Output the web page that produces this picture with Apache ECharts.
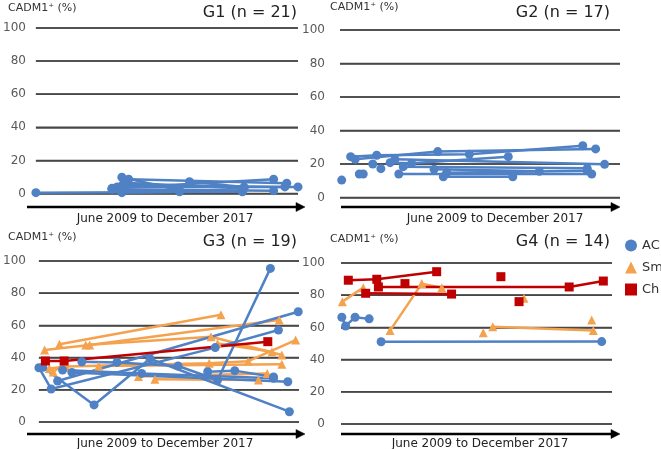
<!DOCTYPE html>
<html><head><meta charset="utf-8">
<script src="https://cdn.jsdelivr.net/npm/echarts@6/dist/echarts.min.js"></script>
<style>html,body{margin:0;padding:0;background:#fff}#c{width:661px;height:449px}</style>
</head><body><div id="c"></div>
<script>
// x = position along time axis, % of the period June 2009 – December 2017
const xRange = [0, 100];
const yTicks = [0, 20, 40, 60, 80, 100];
const panelTitles = ['G1 (n = 21)', 'G2 (n = 17)', 'G3 (n = 19)', 'G4 (n = 14)'];
const yAxisTitle = 'CADM1\u207A (%)';
const xAxisTitle = 'June 2009 to December 2017';
const legendNames = ['AC', 'Sm', 'Ch'];

const g1AC = [
  [[0, 0.5], [78.8, 1]],
  [[29, 3.1], [90.7, 8.6]],
  [[35.4, 8.6], [95.7, 6.2]],
  [[33, 5.1], [95, 4]],
  [[31, 4], [100, 4]],
  [[29, 2.5], [90.7, 1.7]],
  [[32.8, 0.5], [54.8, 1]],
  [[58.6, 7.1], [79.4, 4]],
  [[32.8, 9.8], [54.8, 2]],
  [[32.8, 1.5], [78.8, 1.5]],
  [[34, 6.5], [79.4, 3]]
];
const g1Sm = [];
const g1Ch = [];

const g2AC = [
  [[0.6, 10.4]],
  [[6.9, 14]],
  [[8.3, 14]],
  [[11.7, 20]],
  [[14.6, 17.2]],
  [[3.8, 24.4], [13.1, 25.2], [46.2, 25.8], [86.7, 30.9]],
  [[5.4, 22.8], [34.9, 27.4], [91.3, 29]],
  [[17.9, 20.8], [25.6, 20.4], [60.1, 24.4]],
  [[19.6, 22.8], [94.5, 19.8]],
  [[22.6, 18.4], [88.3, 17.4]],
  [[21, 14], [89.9, 14]],
  [[33.6, 16.8], [71.2, 15.6]],
  [[36.9, 12.4], [61.7, 12.4]],
  [[38.1, 14.8], [88.3, 16]]
];
const g2Sm = [];
const g2Ch = [];

const g3AC = [
  [[0, 33.7], [4.7, 20.5], [67.8, 46.2], [92.1, 57.1]],
  [[1.5, 34], [21.2, 10.6], [42.7, 39.3], [96.3, 6.4]],
  [[7.2, 25.5], [99.7, 68.5]],
  [[9.1, 32.3], [39.5, 30.2], [90.2, 27.1]],
  [[12.7, 30.8], [95.7, 25]],
  [[16.5, 37.4], [30, 37], [53.5, 34.8], [68.7, 26.1], [89, 95.4]],
  [[64.9, 31.2], [75.3, 31.9], [90.2, 28]]
];
const g3Sm = [
  [[7.9, 48.3], [70, 66.6]],
  [[2.2, 44.7], [19.5, 47.8], [92.4, 63.4]],
  [[18, 47.8], [66.2, 52.9], [93.4, 41.6]],
  [[4, 33.3], [10.4, 34.4], [65.5, 36.5], [80.5, 37.8], [98.7, 50.9]],
  [[23, 34.8], [93.4, 35.8]],
  [[38.3, 28.2], [87.8, 30.2]],
  [[44.6, 26.6], [84.4, 26.1]],
  [[68.7, 48.8], [89.6, 43.7]],
  [[5.5, 31], [9.5, 36]]
];
const g3Ch = [
  [[2.5, 37.9], [9.7, 37.9], [88, 49.9]]
];

const g4AC = [
  [[0.3, 66.3], [1.7, 60.9], [5.2, 66.3], [10.4, 65.3]],
  [[14.8, 51.1], [96.2, 51.2]]
];
const g4Sm = [
  [[0.5, 76], [8.2, 84.7]],
  [[18.1, 58], [29.8, 87.2], [37.2, 84.7]],
  [[56, 60.4], [93.1, 58]],
  [[52.5, 56.7]],
  [[67.5, 78.1]],
  [[92.5, 64.6]]
];
const g4Ch = [
  [[2.7, 89.3], [13.2, 89.9], [35.3, 94.6]],
  [[13.8, 85.1], [84.2, 85.1], [96.8, 88.8]],
  [[9.1, 81.2], [40.8, 80.7]],
  [[23.6, 87.2]],
  [[59, 91.5]],
  [[65.7, 76]]
];

const panels = [
  {AC: g1AC, Sm: g1Sm, Ch: g1Ch},
  {AC: g2AC, Sm: g2Sm, Ch: g2Ch},
  {AC: g3AC, Sm: g3Sm, Ch: g3Ch},
  {AC: g4AC, Sm: g4Sm, Ch: g4Ch}
];

const FONT = 'DejaVu Sans';
const GRIDCOLOR = '#474747';
const COLORS = {AC: '#4f81c4', Sm: '#f5a24f', Ch: '#c00000'};
const SYMBOLS = {AC: 'circle', Sm: 'triangle', Ch: 'rect'};
const SIZES = {AC: 9, Sm: 9, Ch: 9};

const grids = [
  {left: 33, top: 28, width: 265, height: 165.5},
  {left: 340, top: 30, width: 280, height: 167.5},
  {left: 36, top: 261, width: 263, height: 161},
  {left: 341, top: 263, width: 271, height: 161}
];
const labelMargin = [10, 15, 13, 16];

const series = [];
// grid lines first (same layer as the data, so data is drawn on top)
panels.forEach((p, gi) => {
  yTicks.forEach(v => {
    series.push({
      type: 'line', name: 'Grid', xAxisIndex: gi, yAxisIndex: gi,
      data: [[xRange[0], v], [xRange[1], v]], symbol: 'circle', symbolSize: 0, showSymbol: false,
      lineStyle: {color: GRIDCOLOR, width: 1.5, opacity: 1}, itemStyle: {color: GRIDCOLOR},
      silent: true, clip: false, z: 6, animation: false
    });
  });
});
panels.forEach((p, gi) => {
  ['Sm', 'AC', 'Ch'].forEach(k => {
    p[k].forEach(traj => {
      series.push({
        type: 'line', name: k, xAxisIndex: gi, yAxisIndex: gi,
        data: traj, symbol: SYMBOLS[k], symbolSize: SIZES[k], showSymbol: true,
        lineStyle: {color: COLORS[k], width: 2.5},
        itemStyle: {color: COLORS[k]},
        clip: false, animation: false, silent: true, z: 6
      });
    });
  });
});

const graphic = [];
const arrows = [[27, 305, 207], [341, 620, 207], [27, 305, 434], [341, 620, 434]];
arrows.forEach(a => {
  graphic.push({type: 'polyline', z: 50, shape: {points: [[a[0], a[2]], [a[1] - 7, a[2]]]}, style: {stroke: '#000', fill: null, lineWidth: 2.5}});
  graphic.push({type: 'polygon', z: 50, shape: {points: [[a[1], a[2]], [a[1] - 9, a[2] - 4.5], [a[1] - 9, a[2] + 4.5]]}, style: {fill: '#000', stroke: '#000', lineWidth: 0.5}});
});
const xNamePos = [[165, 219], [495, 219], [165, 444], [480, 444]];
xNamePos.forEach(p => graphic.push({type: 'text', z: 50, x: p[0], y: p[1], style: {text: xAxisTitle, font: '12px "DejaVu Sans"', fill: '#222', align: 'center', verticalAlign: 'middle', textAlign: 'center', textVerticalAlign: 'middle'}}));
const yNamePos = [[8, 3], [330, 2], [8, 232], [330, 234]];
yNamePos.forEach(p => graphic.push({type: 'text', z: 50, x: p[0], y: p[1], style: {text: yAxisTitle, font: '11px "DejaVu Sans"', fill: '#333'}}));
const titlePos = [[297, 5], [610, 5], [297, 234], [610, 234]];
titlePos.forEach((p, i) => graphic.push({type: 'text', z: 50, x: p[0], y: p[1], style: {text: panelTitles[i], font: '16px "DejaVu Sans"', fill: '#222', textAlign: 'right', align: 'right'}}));

const option = {
  animation: false,
  textStyle: {fontFamily: FONT},
  grid: grids,
  xAxis: grids.map((g, i) => ({type: 'value', gridIndex: i, min: xRange[0], max: xRange[1], show: false})),
  yAxis: grids.map((g, i) => ({
    type: 'value', gridIndex: i, min: yTicks[0], max: yTicks[yTicks.length - 1], interval: 20,
    axisLine: {show: false}, axisTick: {show: false},
    axisLabel: {show: true, color: '#595959', fontSize: 12, margin: labelMargin[i], fontFamily: FONT},
    splitLine: {show: true, lineStyle: {color: GRIDCOLOR, width: 1.5}}
  })),
  legend: {
    orient: 'vertical', left: 620, top: 234, itemWidth: 12, itemHeight: 12, itemGap: 9,
    data: legendNames.map(n => ({name: n, icon: SYMBOLS[n], itemStyle: {color: COLORS[n]}})),
    textStyle: {fontSize: 13, color: '#333', fontFamily: FONT},
    selectedMode: false
  },
  graphic: {elements: graphic},
  series: series
};
const chart = echarts.init(document.getElementById('c'), null, {renderer: 'canvas'});
chart.setOption(option);
</script></body></html>
